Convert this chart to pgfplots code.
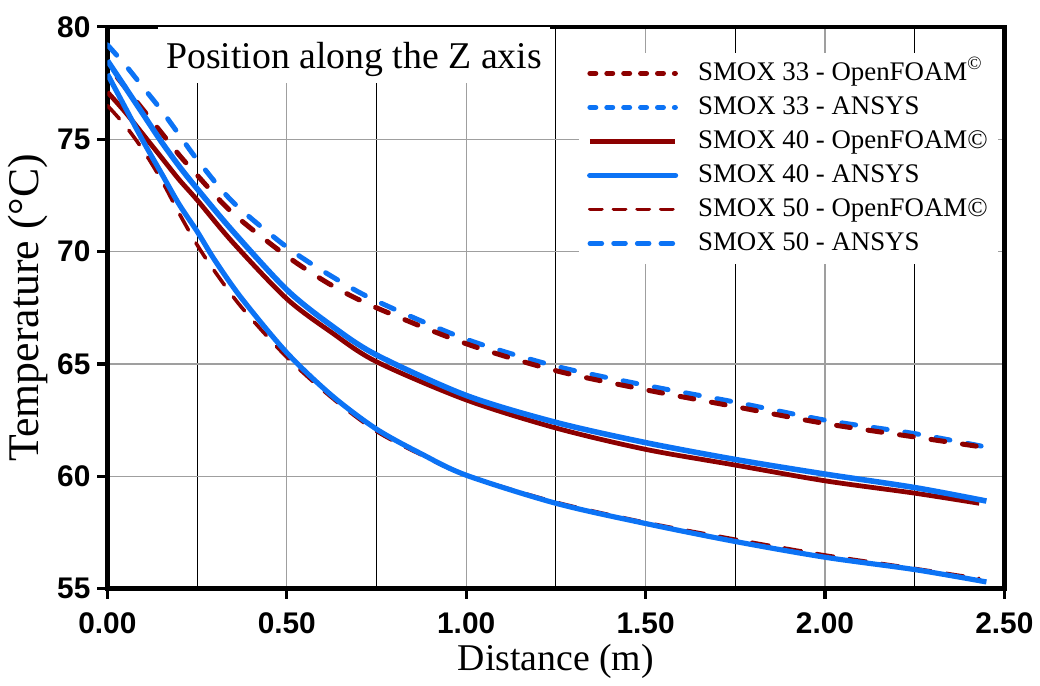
\documentclass[border=0pt]{standalone}
\usepackage{pgfplots}
\pgfplotsset{compat=1.18}
\usepackage{fontspec}
\setmainfont{Liberation Serif}
\newfontfamily\tickfont{Liberation Sans}
\definecolor{ofred}{RGB}{140,0,0}
\definecolor{anblue}{RGB}{12,115,245}

% line styles for the three SMOX cases
\tikzset{
  s33/.style={line width=2.5pt, line cap=round, dash pattern=on 7pt off 9pt},
  s40red/.style={line width=2.4pt},
  s40blue/.style={line width=2.8pt},
  s50red/.style={line width=1.8pt, line cap=round, dash pattern=on 9pt off 7.5pt},
  s50blue/.style={line width=2.6pt},
}

\begin{document}
\begin{tikzpicture}
\begin{axis}[
  scale only axis, width=451pt, height=282.5pt,
  xmin=0, xmax=2.5, ymin=55, ymax=80,
  xtick={0,0.5,1,1.5,2,2.5},
  minor xtick={0.25,0.75,1.25,1.75,2.25},
  ytick={55,60,65,70,75,80},
  grid=both,
  major grid style={draw=gray!75, line width=0.6pt},
  minor grid style={draw=black, line width=0.55pt},
  axis line style={line width=2.2pt},
  tick style={black, line width=1.6pt},
  major tick length=5pt, minor tick length=0pt,
  tick align=outside, tick pos=left,
  /pgf/number format/assume math mode=true,
  tick label style={font=\tickfont\bfseries\fontsize{15}{15}\selectfont},
  x tick label style={yshift=-3.5pt, /pgf/number format/.cd, fixed, fixed zerofill, precision=2},
  xlabel={Distance (m)},
  ylabel={Temperature (°C)},
  xlabel style={font=\fontsize{19}{19}\selectfont, yshift=1.5pt},
  ylabel style={font=\fontsize{22}{22}\selectfont, yshift=-2pt},
  legend style={at={(rel axis cs:0.993,0.955)}, anchor=north east,
    draw=none, fill=white, inner xsep=4pt, inner ysep=3pt,
    font=\fontsize{13.5}{13.5}\selectfont,
    nodes={text height=10pt, text depth=3pt, inner sep=1pt},
    row sep=2.1pt,
    /tikz/every odd column/.append style={column sep=9pt}},
  legend cell align=left,
  legend image code/.code={\draw[#1] (0pt,0pt) -- (43pt,0pt);},
]

% SMOX 33
\addplot[anblue, s33, smooth, forget plot] coordinates {
 (0,79.2) (0.05,78.3) (0.1,77.3) (0.15,76.3) (0.2,75.2) (0.25,74.1)
 (0.35,72.2) (0.5,70.2) (0.625,68.9) (0.75,67.8) (1.0,66.1) (1.25,64.9)
 (1.5,64.05) (1.75,63.3) (2.0,62.5) (2.25,61.9) (2.45,61.3)};
\addplot[ofred, s33, dash phase=8pt, smooth, forget plot] coordinates {
 (0,78.3) (0.05,77.3) (0.1,76.3) (0.15,75.3) (0.2,74.3) (0.25,73.4)
 (0.35,71.7) (0.5,69.8) (0.625,68.5) (0.75,67.5) (1.0,65.9) (1.25,64.7)
 (1.5,63.85) (1.75,63.1) (2.0,62.35) (2.25,61.75) (2.44,61.3)};

% SMOX 40
\addplot[ofred, s40red, smooth, forget plot] coordinates {
 (0,77.1) (0.05,76.2) (0.1,75.2) (0.15,74.2) (0.2,73.2) (0.25,72.3)
 (0.35,70.4) (0.5,67.9) (0.625,66.4) (0.75,65.1) (1.0,63.4) (1.25,62.15)
 (1.5,61.2) (1.75,60.5) (2.0,59.8) (2.25,59.25) (2.43,58.8)};
\addplot[anblue, s40blue, smooth, forget plot] coordinates {
 (0,78.5) (0.05,77.3) (0.1,76.1) (0.15,74.9) (0.2,73.8) (0.25,72.8)
 (0.35,70.9) (0.5,68.3) (0.625,66.7) (0.75,65.4) (1.0,63.6) (1.25,62.4)
 (1.5,61.5) (1.75,60.75) (2.0,60.1) (2.25,59.5) (2.45,58.9)};

% SMOX 50
\addplot[ofred, s50red, smooth, forget plot] coordinates {
 (0,76.5) (0.05,75.6) (0.1,74.5) (0.15,73.2) (0.2,71.7) (0.25,70.3)
 (0.3,69.1) (0.375,67.5) (0.5,65.3) (0.625,63.5) (0.75,62.0) (0.875,60.95)
 (1.0,60.05) (1.25,58.85) (1.5,57.95) (1.75,57.2) (2.0,56.5) (2.25,55.9) (2.43,55.45)};
\addplot[anblue, s50blue, smooth, forget plot] coordinates {
 (0,77.9) (0.05,76.4) (0.1,74.9) (0.15,73.5) (0.2,72.1) (0.25,70.9)
 (0.3,69.6) (0.375,67.9) (0.5,65.5) (0.625,63.6) (0.75,62.1) (0.875,61.0)
 (1.0,60.05) (1.25,58.8) (1.5,57.9) (1.75,57.1) (2.0,56.4) (2.25,55.85) (2.45,55.3)};

% legend samples
\addlegendimage{ofred, line width=2.5pt, line cap=round, dash pattern=on 3pt off 5.5pt}
\addlegendentry{SMOX 33 - OpenFOAM\textsuperscript{©}}
\addlegendimage{anblue, line width=2.5pt, line cap=round, dash pattern=on 3pt off 5.5pt}
\addlegendentry{SMOX 33 - ANSYS}
\addlegendimage{ofred, line width=2.2pt}
\addlegendentry{SMOX 40 - OpenFOAM©}
\addlegendimage{anblue, line width=2.8pt, line cap=round}
\addlegendentry{SMOX 40 - ANSYS}
\addlegendimage{ofred, line width=1.9pt, line cap=round, dash pattern=on 6pt off 5.9pt}
\addlegendentry{SMOX 50 - OpenFOAM©}
\addlegendimage{anblue, line width=2.3pt, line cap=round, dash pattern=on 6pt off 5.9pt}
\addlegendentry{SMOX 50 - ANSYS}

\node[fill=white, anchor=north, inner xsep=4pt, inner ysep=3.5pt,
      text height=17pt, text depth=4pt, font=\fontsize{19}{19}\selectfont]
  at (rel axis cs:0.275,1) {Position along the Z axis};
\end{axis}
\path[use as bounding box] (-54pt,-46pt) rectangle (466pt,296pt);
\end{tikzpicture}
\end{document}
